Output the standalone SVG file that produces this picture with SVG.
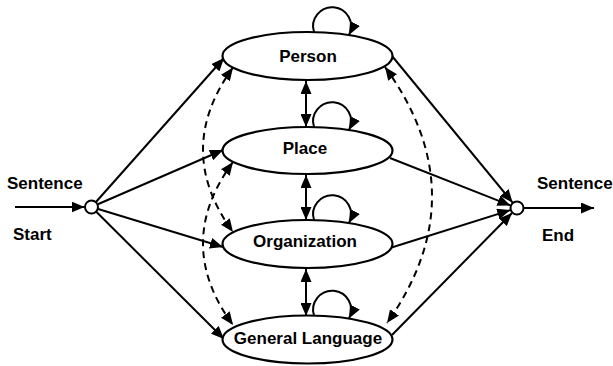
<svg xmlns="http://www.w3.org/2000/svg" width="613" height="366" viewBox="0 0 613 366">
<defs>
<marker id="ah" markerUnits="userSpaceOnUse" markerWidth="13" markerHeight="11" refX="13" refY="5.5" orient="auto-start-reverse" viewBox="0 0 13 11">
<path d="M0,0 L13,5.5 L0,11 z" fill="#000"/>
</marker>
</defs>
<style>
.n ellipse{fill:#fff;stroke:#000;stroke-width:2.2}
.t{font-family:"Liberation Sans",Arial,sans-serif;font-weight:bold;font-size:17px;fill:#000}
.c path,.c line{fill:none;stroke:#000;stroke-width:2}
.c .d{stroke-dasharray:7 5}
.e{marker-end:url(#ah)}
.b{marker-start:url(#ah);marker-end:url(#ah)}
.pt{fill:#fff;stroke:#000;stroke-width:2}
</style>
<g class="c" id="connectors">
<line class="e" x1="15" y1="207" x2="84.5" y2="207"/>
<line class="e" x1="524" y1="208" x2="594" y2="208"/>
<line class="e" x1="91.5" y1="207" x2="224" y2="58"/>
<line class="e" x1="91.5" y1="207" x2="223" y2="150"/>
<line class="e" x1="91.5" y1="207" x2="223" y2="247"/>
<line class="e" x1="91.5" y1="207" x2="224" y2="339"/>
<line class="e" x1="392" y1="56" x2="512.6" y2="202.6"/>
<line class="e" x1="390" y1="158" x2="510.5" y2="205.4"/>
<line class="e" x1="390" y1="248" x2="510.3" y2="210.1"/>
<line class="e" x1="392" y1="335" x2="512" y2="213"/>
<line class="b" x1="306" y1="81" x2="306" y2="127"/>
<line class="b" x1="306" y1="175" x2="306" y2="220"/>
<line class="b" x1="306" y1="269" x2="306" y2="316"/>
<path class="e" d="M314,32 A19,19 0 1 1 349,35"/>
<path class="e" d="M314,127 A19,19 0 1 1 349,130"/>
<path class="e" d="M314,220 A19,19 0 1 1 349,223"/>
<path class="e" d="M314,315.5 A19,19 0 1 1 349,318.5"/>
<path class="d b" d="M233,67.5 Q173,150 233,232"/>
<path class="d b" d="M233,162 Q173,243.5 233,325"/>
<path class="d b" d="M385,67 Q478,195 387,323"/>
</g>
<g id="start"><circle class="pt" cx="91.5" cy="207" r="6.5"/></g>
<g id="end"><circle class="pt" cx="517" cy="208" r="6.5"/></g>
<g class="n" id="person"><ellipse cx="307.5" cy="56" rx="85" ry="24"/><text class="t" x="308" y="62" text-anchor="middle">Person</text></g>
<g class="n" id="place"><ellipse cx="307.5" cy="150.5" rx="85" ry="23.5"/><text class="t" x="305" y="153.5" text-anchor="middle">Place</text></g>
<g class="n" id="organization"><ellipse cx="307.5" cy="244" rx="85" ry="24"/><text class="t" x="305" y="247" text-anchor="middle">Organization</text></g>
<g class="n" id="general"><ellipse cx="307.5" cy="339.5" rx="85" ry="24"/><text class="t" x="308" y="344" text-anchor="middle">General Language</text></g>
<g id="labels">
<text class="t" x="7" y="189">Sentence</text>
<text class="t" x="13" y="240">Start</text>
<text class="t" x="537" y="189">Sentence</text>
<text class="t" x="542" y="241">End</text>
</g>
</svg>
